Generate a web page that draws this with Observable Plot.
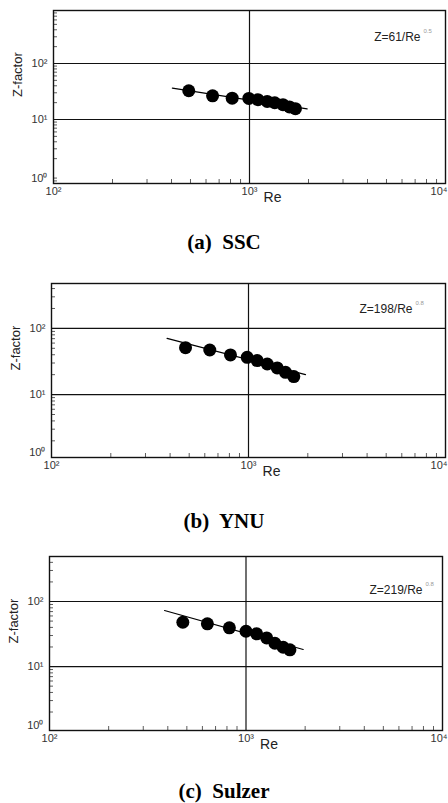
<!DOCTYPE html>
<html><head><meta charset="utf-8">
<script src="https://cdn.jsdelivr.net/npm/d3@7"></script>
<script src="https://cdn.jsdelivr.net/npm/@observablehq/plot@0.6"></script>
<style>
body{margin:0;background:#fff;width:448px;height:803px;overflow:hidden;position:relative;font-family:"Liberation Sans",Arial,sans-serif;}
.panel{position:absolute;left:0;}
.cap{position:absolute;left:0;width:448px;text-align:center;font-family:"Liberation Serif","Times New Roman",serif;font-weight:bold;font-size:21px;line-height:24px;color:#000;white-space:pre;}
</style></head><body>
<script>
// ---- tick labels ----
const reTicks = [100, 1000, 10000];
const reTickLabels = ["10²", "10³", "10⁴"];
const zTicks = [10, 100];
const zTickLabels = ["10¹", "10²"];
const zBottomLabel = "10⁰";
const xTitle = "Re";
const yTitle = "Z-factor";

// ---- panel captions & fitted equations ----
const captions = ["(a)  SSC", "(b)  YNU", "(c)  Sulzer"];
const equations = ["Z=61/Re", "Z=198/Re", "Z=219/Re"];
const exponents = ["0.5", "0.8", "0.8"];

// ---- (a) SSC ----
const sscRe = [490, 648, 816, 992, 1104, 1231, 1345, 1482, 1600, 1715];
const sscZ = [32.6, 26.5, 24.0, 23.8, 22.6, 21.0, 19.9, 18.4, 16.8, 15.6];
const sscFitRe = [404, 1968];
const sscFitZ = [36.2, 15.5];

// ---- (b) YNU ----
const ynuRe = [479, 636, 810, 985, 1107, 1245, 1399, 1541, 1698];
const ynuZ = [51.2, 47.2, 39.7, 36.5, 32.6, 29.0, 25.3, 21.7, 18.7];
const ynuFitRe = [386, 1947];
const ynuFitZ = [70.6, 20.0];

// ---- (c) Sulzer ----
const sulRe = [477, 636, 823, 1000, 1133, 1274, 1403, 1546, 1673];
const sulZ = [48.0, 45.4, 39.4, 34.9, 31.9, 27.6, 22.8, 19.8, 18.1];
const sulFitRe = [385, 1954];
const sulFitZ = [72.7, 18.3];

const panels = [
  {re: sscRe, z: sscZ, fitRe: sscFitRe, fitZ: sscFitZ, yDomain: [0.72, 884],
   top: 0, ml: 53, mr: 3, fh: 173, eqDx: -25, eqDy: 22, capTop: 230},
  {re: ynuRe, z: ynuZ, fitRe: ynuFitRe, fitZ: ynuFitZ, yDomain: [1.12, 477],
   top: 273, ml: 51, mr: 3, fh: 174, eqDx: -33, eqDy: 21, capTop: 509},
  {re: sulRe, z: sulZ, fitRe: sulFitRe, fitZ: sulFitZ, yDomain: [1.04, 492],
   top: 546, ml: 49, mr: 6, fh: 174, eqDx: -20, eqDy: 29, capTop: 779}
];

const W = 448;
const fmtX = d => reTickLabels[reTicks.indexOf(d)];
panels.forEach((p, k) => {
  const mt = 10, mb = 32;
  const fw = W - p.ml - p.mr;
  const xMinor = d3.scaleLog().domain([100, 10000]).ticks().filter(d => !reTicks.includes(d));
  const yMinor = d3.scaleLog().domain(p.yDomain).ticks().filter(d => !zTicks.includes(d) && d !== 1);
  const chart = Plot.plot({
    width: W,
    height: mt + p.fh + mb,
    marginTop: mt, marginBottom: mb, marginLeft: p.ml, marginRight: p.mr,
    style: {fontFamily: "Liberation Sans, Arial, sans-serif", background: "transparent", overflow: "visible"},
    x: {type: "log", domain: [100, 10000], axis: null},
    y: {type: "log", domain: p.yDomain, axis: null},
    marks: [
      Plot.gridY(zTicks, {stroke: "#111", strokeOpacity: 1, strokeWidth: 1.2}),
      Plot.gridX([1000], {stroke: "#111", strokeOpacity: 1, strokeWidth: 1.2}),
      Plot.tickX(xMinor, {insetTop: p.fh - 4, stroke: "#333", strokeWidth: 0.8}),
      Plot.tickY(yMinor, {insetRight: fw - 4, stroke: "#333", strokeWidth: 0.8}),
      Plot.frame({stroke: "#111", strokeWidth: 1.4}),
      Plot.axisX(reTicks.slice(0, 2), {tickSize: 0, tickPadding: 4, fontSize: 11, fill: "#333",
        tickFormat: fmtX, label: null}),
      Plot.axisX(reTicks.slice(2), {tickSize: 0, tickPadding: 4, fontSize: 11, fill: "#333",
        tickFormat: fmtX, label: null, textAnchor: "end", dx: p.mr - 1}),
      Plot.axisY(zTicks, {tickSize: 0, tickPadding: 6, fontSize: 11, fill: "#333",
        tickFormat: d => zTickLabels[zTicks.indexOf(d)], label: null}),
      Plot.text([zBottomLabel], {frameAnchor: "bottom-left", textAnchor: "end", dx: -6, dy: -2, fontSize: 11, fill: "#333"}),
      Plot.text([yTitle], {frameAnchor: "left", rotate: -90, dx: -36, fontSize: 13, fill: "#222"}),
      Plot.text([xTitle], {frameAnchor: "bottom", dx: 23, dy: 18, fontSize: 14, fill: "#222"}),
      Plot.text([equations[k]], {frameAnchor: "top-right", textAnchor: "end", dx: p.eqDx, dy: p.eqDy, fontSize: 12, fill: "#222"}),
      Plot.text([exponents[k]], {frameAnchor: "top-right", textAnchor: "start", dx: p.eqDx + 3, dy: p.eqDy - 4, fontSize: 6, fill: "#999"}),
      Plot.line(p.fitRe, {x: p.fitRe, y: p.fitZ, stroke: "#000", strokeWidth: 1.2}),
      Plot.dot(p.re, {x: p.re, y: p.z, r: 6.5, fill: "#000", stroke: null})
    ]
  });
  const div = document.createElement("div");
  div.className = "panel";
  div.style.top = p.top + "px";
  div.appendChild(chart);
  document.body.appendChild(div);
  const cap = document.createElement("div");
  cap.className = "cap";
  cap.style.top = p.capTop + "px";
  cap.textContent = captions[k];
  document.body.appendChild(cap);
});
</script>
</body></html>
